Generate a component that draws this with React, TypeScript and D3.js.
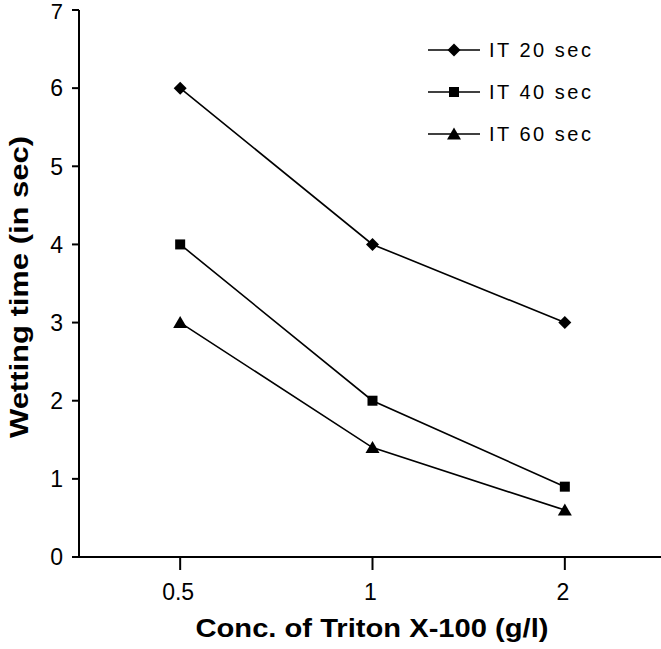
import React from "react";
import * as d3 from "d3";

const categories = ["0.5", "1", "2"];
const seriesNames = ["IT 20 sec", "IT 40 sec", "IT 60 sec"];
const it20 = [6, 4, 3];
const it40 = [4, 2, 0.9];
const it60 = [3, 1.4, 0.6];
const yTicks = [0, 1, 2, 3, 4, 5, 6, 7];

const W = 661, H = 649;

function Marker({ kind, x, y }: { kind: number; x: number; y: number }) {
  if (kind === 0) {
    const s = 6.5;
    return <path d={`M${x},${y - s}L${x + s},${y}L${x},${y + s}L${x - s},${y}Z`} fill="#000" />;
  }
  if (kind === 1) {
    return <rect x={x - 5} y={y - 5} width={10} height={10} fill="#000" />;
  }
  return <path d={`M${x},${y - 6.5}L${x + 7},${y + 5.5}L${x - 7},${y + 5.5}Z`} fill="#000" />;
}

export default function App() {
  const axisX = 79;
  const x = d3.scaleBand<string>().domain(categories).range([84, 661]);
  const y = d3.scaleLinear().domain([0, 7]).range([557, 10]);
  const cx = (c: string) => (x(c) as number) + x.bandwidth() / 2;
  const series = [it20, it40, it60];
  const line = d3
    .line<number>()
    .x((_, i) => cx(categories[i]))
    .y((d) => y(d));
  const font = "Arial, 'Liberation Sans', sans-serif";
  return (
    <svg width={W} height={H} style={{ position: "absolute", left: 0, top: 0, background: "#fff" }}>
      <rect width={W} height={H} fill="#fff" />
      <line x1={axisX} y1={y(7)} x2={axisX} y2={y(0)} stroke="#000" strokeWidth={2} />
      <line x1={axisX} y1={y(0)} x2={W} y2={y(0)} stroke="#000" strokeWidth={2} />
      {yTicks.map((t) => (
        <g key={t}>
          <line x1={72} x2={axisX} y1={y(t)} y2={y(t)} stroke="#000" strokeWidth={2} />
          <text
            x={63}
            y={t === 7 ? y(t) + 1 : y(t)}
            dy="0.36em"
            textAnchor="end"
            fontFamily={font}
            fontSize={t === 7 ? 22 : 23}
          >
            {t}
          </text>
        </g>
      ))}
      {categories.map((c) => (
        <g key={c}>
          <line x1={cx(c)} x2={cx(c)} y1={y(0)} y2={y(0) + 13} stroke="#000" strokeWidth={2} />
          <text x={cx(c) - 2} y={600} textAnchor="middle" fontFamily={font} fontSize={23}>
            {c}
          </text>
        </g>
      ))}
      {series.map((s, k) => (
        <g key={k}>
          <path d={line(s) || ""} fill="none" stroke="#000" strokeWidth={1.6} />
          {s.map((v, i) => (
            <Marker key={i} kind={k} x={cx(categories[i])} y={y(v)} />
          ))}
        </g>
      ))}
      {seriesNames.map((n, k) => {
        const ly = 50 + k * 42;
        return (
          <g key={n}>
            <line x1={428} x2={480} y1={ly} y2={ly} stroke="#000" strokeWidth={1.6} />
            <Marker kind={k} x={454} y={ly} />
            <text x={489} y={ly} dy="0.36em" fontFamily={font} fontSize={20} letterSpacing={2.5}>
              {n}
            </text>
          </g>
        );
      })}
      <text
        x={372}
        y={637}
        textAnchor="middle"
        fontFamily={font}
        fontWeight="bold"
        fontSize={25}
        textLength={353}
        lengthAdjust="spacingAndGlyphs"
      >
        Conc. of Triton X-100 (g/l)
      </text>
      <text
        transform="translate(28,287) rotate(-90)"
        x={0}
        y={0}
        textAnchor="middle"
        fontFamily={font}
        fontWeight="bold"
        fontSize={25}
        textLength={302}
        lengthAdjust="spacingAndGlyphs"
      >
        Wetting time (in sec)
      </text>
    </svg>
  );
}
